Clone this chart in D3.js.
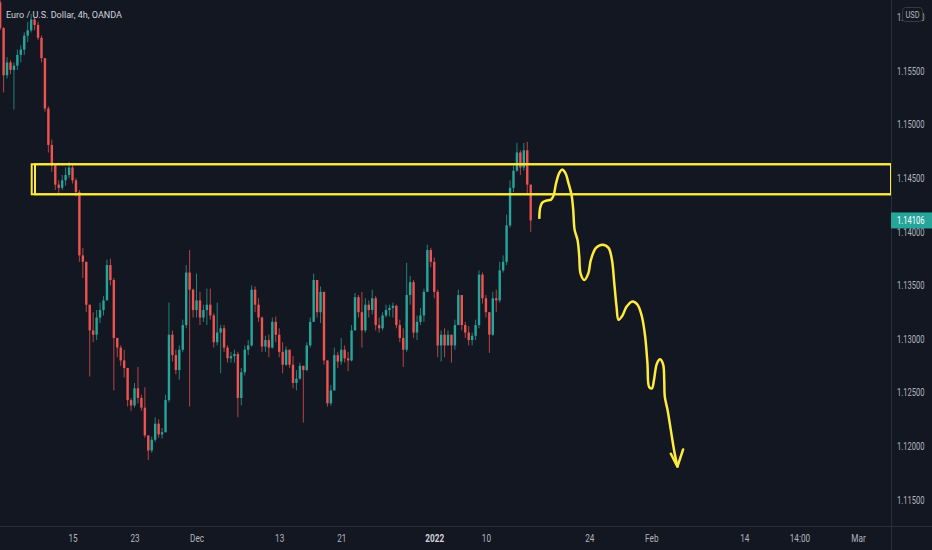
<!DOCTYPE html>
<html>
<head>
<meta charset="utf-8">
<script src="https://cdn.jsdelivr.net/npm/d3@7"></script>
<style>
  html, body { margin: 0; padding: 0; background: #131722; }
  svg { display: block; font-family: Roboto, "Liberation Sans", sans-serif; }
</style>
</head>
<body>
<svg id="chart" width="932" height="550"></svg>
<script>
// EUR/USD bars, one per 8h slot, open = previous close
const firstOpen = 1.1614;
const highs = [
  1.1616, 1.1591, 1.1563, 1.1560, 1.1558, 1.1570, 1.1574, 1.1586, 1.1596, 1.1603,
  1.1600, 1.1596, 1.1583, 1.1562, 1.1517, 1.1486, 1.1462, 1.1448, 1.1453, 1.1460,
  1.1465, 1.1464, 1.1450, 1.1439, 1.1385, 1.1372, 1.1332, 1.1325, 1.1327, 1.1334,
  1.1340, 1.1374, 1.1375, 1.1357, 1.1301, 1.1294, 1.1290, 1.1273, 1.1245, 1.1259,
  1.1274, 1.1248, 1.1255, 1.1210, 1.1209, 1.1227, 1.1225, 1.1217, 1.1248, 1.1334,
  1.1308, 1.1290, 1.1294, 1.1318, 1.1369, 1.1383, 1.1347, 1.1361, 1.1344, 1.1332,
  1.1347, 1.1347, 1.1324, 1.1334, 1.1313, 1.1313, 1.1294, 1.1288, 1.1290, 1.1288,
  1.1273, 1.1294, 1.1299, 1.1350, 1.1349, 1.1338, 1.1321, 1.1303, 1.1304, 1.1320,
  1.1321, 1.1310, 1.1297, 1.1293, 1.1290, 1.1284, 1.1271, 1.1278, 1.1275, 1.1297,
  1.1320, 1.1361, 1.1350, 1.1349, 1.1338, 1.1280, 1.1257, 1.1292, 1.1288, 1.1301,
  1.1294, 1.1288, 1.1313, 1.1343, 1.1341, 1.1344, 1.1338, 1.1336, 1.1346, 1.1340,
  1.1320, 1.1325, 1.1332, 1.1332, 1.1334, 1.1332, 1.1318, 1.1310, 1.1371, 1.1359,
  1.1355, 1.1322, 1.1329, 1.1347, 1.1388, 1.1385, 1.1376, 1.1346, 1.1308, 1.1310,
  1.1308, 1.1299, 1.1318, 1.1346, 1.1338, 1.1316, 1.1312, 1.1306, 1.1318, 1.1364,
  1.1362, 1.1341, 1.1325, 1.1344, 1.1346, 1.1372, 1.1378, 1.1416, 1.1448, 1.1462,
  1.1483, 1.1476, 1.1483, 1.1484, 1.1444
];
const lows = [
  1.1588, 1.1530, 1.1543, 1.1547, 1.1514, 1.1551, 1.1558, 1.1565, 1.1577, 1.1586,
  1.1588, 1.1579, 1.1558, 1.1512, 1.1474, 1.1456, 1.1439, 1.1436, 1.1439, 1.1443,
  1.1450, 1.1445, 1.1433, 1.1372, 1.1357, 1.1325, 1.1265, 1.1297, 1.1299, 1.1315,
  1.1322, 1.1336, 1.1350, 1.1252, 1.1283, 1.1275, 1.1264, 1.1237, 1.1233, 1.1236,
  1.1240, 1.1233, 1.1208, 1.1187, 1.1194, 1.1204, 1.1208, 1.1207, 1.1213, 1.1241,
  1.1279, 1.1267, 1.1262, 1.1288, 1.1310, 1.1237, 1.1320, 1.1320, 1.1313, 1.1316,
  1.1313, 1.1318, 1.1292, 1.1294, 1.1268, 1.1288, 1.1278, 1.1278, 1.1278, 1.1227,
  1.1238, 1.1266, 1.1285, 1.1293, 1.1325, 1.1316, 1.1288, 1.1288, 1.1283, 1.1291,
  1.1297, 1.1283, 1.1268, 1.1275, 1.1273, 1.1254, 1.1252, 1.1262, 1.1222, 1.1270,
  1.1292, 1.1316, 1.1320, 1.1315, 1.1276, 1.1237, 1.1238, 1.1252, 1.1273, 1.1276,
  1.1278, 1.1270, 1.1279, 1.1308, 1.1320, 1.1292, 1.1306, 1.1320, 1.1323, 1.1308,
  1.1306, 1.1308, 1.1320, 1.1321, 1.1320, 1.1310, 1.1297, 1.1274, 1.1288, 1.1332,
  1.1301, 1.1299, 1.1313, 1.1316, 1.1344, 1.1367, 1.1338, 1.1283, 1.1279, 1.1283,
  1.1294, 1.1278, 1.1290, 1.1313, 1.1308, 1.1301, 1.1294, 1.1294, 1.1299, 1.1310,
  1.1333, 1.1320, 1.1287, 1.1303, 1.1325, 1.1334, 1.1362, 1.1369, 1.1404, 1.1437,
  1.1456, 1.1453, 1.1457, 1.1434, 1.1400
];
const closes = [
  1.1590, 1.1546, 1.1558, 1.1551, 1.1555, 1.1565, 1.1570, 1.1583, 1.1588, 1.1598,
  1.1593, 1.1581, 1.1562, 1.1515, 1.1481, 1.1462, 1.1444, 1.1441, 1.1448, 1.1453,
  1.1460, 1.1448, 1.1437, 1.1378, 1.1372, 1.1332, 1.1308, 1.1304, 1.1320, 1.1327,
  1.1336, 1.1369, 1.1355, 1.1301, 1.1292, 1.1280, 1.1273, 1.1243, 1.1238, 1.1254,
  1.1245, 1.1236, 1.1210, 1.1196, 1.1206, 1.1221, 1.1211, 1.1213, 1.1243, 1.1304,
  1.1285, 1.1271, 1.1290, 1.1313, 1.1362, 1.1346, 1.1327, 1.1336, 1.1320, 1.1327,
  1.1332, 1.1322, 1.1297, 1.1306, 1.1310, 1.1292, 1.1282, 1.1284, 1.1286, 1.1245,
  1.1269, 1.1290, 1.1294, 1.1346, 1.1332, 1.1320, 1.1293, 1.1299, 1.1292, 1.1316,
  1.1304, 1.1288, 1.1276, 1.1290, 1.1276, 1.1259, 1.1263, 1.1275, 1.1271, 1.1294,
  1.1316, 1.1355, 1.1325, 1.1344, 1.1280, 1.1240, 1.1252, 1.1285, 1.1279, 1.1290,
  1.1282, 1.1280, 1.1308, 1.1339, 1.1325, 1.1308, 1.1332, 1.1327, 1.1338, 1.1313,
  1.1310, 1.1322, 1.1327, 1.1329, 1.1331, 1.1313, 1.1301, 1.1290, 1.1341, 1.1353,
  1.1306, 1.1316, 1.1322, 1.1344, 1.1383, 1.1372, 1.1344, 1.1294, 1.1304, 1.1294,
  1.1304, 1.1294, 1.1313, 1.1341, 1.1313, 1.1306, 1.1299, 1.1303, 1.1313, 1.1360,
  1.1338, 1.1325, 1.1304, 1.1338, 1.1336, 1.1364, 1.1372, 1.1406, 1.1441, 1.1457,
  1.1474, 1.1460, 1.1476, 1.1444, 1.14106
];

// axis ticks (time ticks are bar slots)
const priceTicks = [1.16, 1.155, 1.15, 1.145, 1.14, 1.135, 1.13, 1.125, 1.12, 1.115];
const timeTicks = [21, 39, 57, 81, 99, 126, 141, 171, 189, 216, 232, 249];
const timeLabels = ["15", "23", "Dec", "13", "21", "2022", "10", "24", "Feb", "14", "14:00", "Mar"];

// drawn annotations
const zoneTop = 1.1463, zoneBottom = 1.1435;
const zoneStarts = [9.16, 10.12];
const pathSlots = [156.51, 156.72, 157.29, 158.46, 159.9, 160.65, 161.34, 162.3, 163.08, 164.04,
  165.0, 165.87, 166.35, 166.74, 167.61, 168.09, 168.48, 169.56, 170.7, 171.48,
  172.95, 174.87, 176.58, 177.57, 178.26, 178.92, 179.49, 180.66, 181.8, 183.54,
  185.01, 186.27, 187.23, 187.89, 188.4, 189.18, 189.84, 190.62, 191.58, 192.45,
  192.75, 192.93, 193.71, 194.67, 195.63, 196.59];
const pathPrices = [1.1413, 1.1422, 1.1427, 1.1429, 1.1430, 1.1434, 1.1445, 1.1455, 1.1458, 1.1455,
  1.1445, 1.1434, 1.1420, 1.1402, 1.1392, 1.1377, 1.1361, 1.1355, 1.1361, 1.1374,
  1.1385, 1.1388, 1.1385, 1.1374, 1.1352, 1.1330, 1.1318, 1.1322, 1.1330, 1.1335,
  1.1332, 1.1321, 1.1302, 1.1277, 1.1255, 1.1254, 1.1263, 1.1277, 1.1281, 1.1276,
  1.1262, 1.1246, 1.1234, 1.1215, 1.1196, 1.1181];
const arrowSlots = [194.67, 196.59, 198.24];
const arrowPrices = [1.1193, 1.1181, 1.1197];

const lastPrice = 1.14106;

const w = 932, h = 550;
const plotR = 891, plotB = 526;
const upColor = "#26a69a", downColor = "#ef5350", yellow = "#ffeb3b";

const xScale = d3.scaleLinear().domain([0, 249]).range([0.15, 858]);
const yScale = d3.scaleLinear().domain([1.115, 1.16]).range([499.8, 17.4]);

const svg = d3.select("#chart");

svg.append("rect").attr("width", w).attr("height", h).attr("fill", "#131722");

const candles = closes.map((c, i) => ({
  i: i,
  o: i === 0 ? firstOpen : closes[i - 1],
  h: highs[i],
  l: lows[i],
  c: c
}));

const plot = svg.append("g");

plot.selectAll("line.wick")
  .data(candles)
  .enter()
  .append("line")
  .attr("class", "wick")
  .attr("x1", d => xScale(d.i))
  .attr("x2", d => xScale(d.i))
  .attr("y1", d => yScale(Math.max(d.h, d.o, d.c)))
  .attr("y2", d => yScale(Math.min(d.l, d.o, d.c)))
  .attr("stroke", d => d.c >= d.o ? upColor : downColor)
  .attr("stroke-opacity", 0.75)
  .attr("stroke-width", 1);

plot.selectAll("rect.body")
  .data(candles)
  .enter()
  .append("rect")
  .attr("class", "body")
  .attr("x", d => xScale(d.i) - 1.2)
  .attr("width", 2.4)
  .attr("y", d => yScale(Math.max(d.o, d.c)))
  .attr("height", d => Math.max(1, Math.abs(yScale(d.o) - yScale(d.c))))
  .attr("fill", d => d.c >= d.o ? upColor : downColor);

// support / resistance box
zoneStarts.forEach((s) => {
  svg.append("rect")
    .attr("x", xScale(s))
    .attr("y", yScale(zoneTop))
    .attr("width", plotR - xScale(s))
    .attr("height", yScale(zoneBottom) - yScale(zoneTop))
    .attr("fill", "none")
    .attr("stroke", yellow)
    .attr("stroke-width", 2);
});

// hand drawn projection
const line = d3.line()
  .x(d => xScale(d[0]))
  .y(d => yScale(d[1]))
  .curve(d3.curveCatmullRom.alpha(0.5));

svg.append("path")
  .attr("d", line(pathSlots.map((s, i) => [s, pathPrices[i]])))
  .attr("fill", "none")
  .attr("stroke", yellow)
  .attr("stroke-width", 2.5)
  .attr("stroke-linecap", "round")
  .attr("stroke-linejoin", "round");

svg.append("path")
  .attr("d", d3.line().x(d => xScale(d[0])).y(d => yScale(d[1]))(arrowSlots.map((s, i) => [s, arrowPrices[i]])))
  .attr("fill", "none")
  .attr("stroke", yellow)
  .attr("stroke-width", 2.5)
  .attr("stroke-linecap", "round")
  .attr("stroke-linejoin", "round");

// axis panels
svg.append("rect").attr("x", plotR).attr("y", 0).attr("width", w - plotR).attr("height", h).attr("fill", "#131722");
svg.append("rect").attr("x", 0).attr("y", plotB).attr("width", w).attr("height", h - plotB).attr("fill", "#131722");
svg.append("line").attr("x1", plotR + 0.5).attr("x2", plotR + 0.5).attr("y1", 0).attr("y2", h)
  .attr("stroke", "#2a2e39").attr("stroke-width", 1);
svg.append("line").attr("x1", 0).attr("x2", w).attr("y1", plotB + 0.5).attr("y2", plotB + 0.5)
  .attr("stroke", "#2a2e39").attr("stroke-width", 1);

const yAxis = d3.axisRight(yScale)
  .tickValues(priceTicks)
  .tickFormat(d3.format(".5f"))
  .tickSize(0)
  .tickPadding(6);

const axisR = svg.append("g")
  .attr("transform", `translate(${plotR}, 0)`)
  .call(yAxis);
axisR.select(".domain").remove();
axisR.selectAll("text")
  .attr("fill", "#b2b5be")
  .attr("font-size", 10)
  .attr("font-family", "Roboto, sans-serif")
  .attr("textLength", 27.6)
  .attr("lengthAdjust", "spacingAndGlyphs");

const xAxis = d3.axisBottom(xScale)
  .tickValues(timeTicks)
  .tickFormat((d, i) => timeLabels[i])
  .tickSize(0)
  .tickPadding(9);

const axisB = svg.append("g")
  .attr("transform", `translate(0, ${plotB})`)
  .call(xAxis);
axisB.select(".domain").remove();
axisB.selectAll("text")
  .attr("fill", (d, i) => timeLabels[i] === "2022" ? "#d1d4dc" : "#b2b5be")
  .attr("font-weight", (d, i) => timeLabels[i] === "2022" ? "bold" : "normal")
  .attr("font-size", 10)
  .attr("font-family", "Roboto, sans-serif")
  .attr("transform", "scale(0.82,1)");

// USD badge over the top label
svg.append("rect")
  .attr("x", 902.5).attr("y", 7.5).attr("width", 20).attr("height", 14).attr("rx", 3)
  .attr("fill", "#131722").attr("stroke", "#363a45");
svg.append("text")
  .attr("x", 912.5).attr("y", 17.5)
  .attr("text-anchor", "middle")
  .attr("fill", "#b2b5be")
  .attr("font-size", 9)
  .attr("textLength", 14)
  .attr("lengthAdjust", "spacingAndGlyphs")
  .text("USD");

// last price tag
svg.append("rect")
  .attr("x", plotR).attr("y", yScale(lastPrice) - 8).attr("width", w - plotR).attr("height", 16)
  .attr("fill", upColor);
svg.append("text")
  .attr("x", plotR + 6).attr("y", yScale(lastPrice) + 3.5)
  .attr("fill", "#ffffff")
  .attr("font-size", 10)
  .attr("textLength", 27.6)
  .attr("lengthAdjust", "spacingAndGlyphs")
  .text(d3.format(".5f")(lastPrice));

// title
svg.append("text")
  .attr("x", 6).attr("y", 17.5)
  .attr("fill", "#d1d4dc")
  .attr("font-size", 9.5)
  .attr("textLength", 116)
  .attr("lengthAdjust", "spacingAndGlyphs")
  .text("Euro / U.S. Dollar, 4h, OANDA");
</script>
</body>
</html>
